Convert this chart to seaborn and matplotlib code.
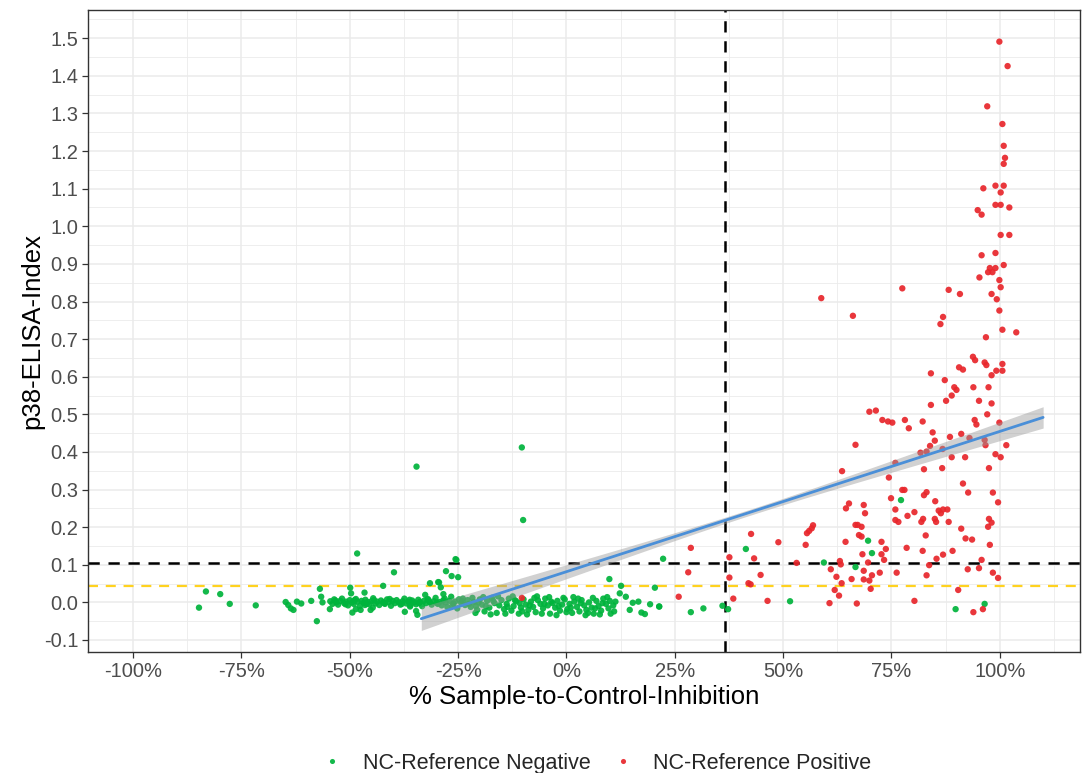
import numpy as np
import pandas as pd
import matplotlib
matplotlib.use("Agg")
import matplotlib.pyplot as plt
import seaborn as sns
from matplotlib.ticker import MultipleLocator, FixedLocator

# ---- NC-Reference Negative samples: x = % inhibition, y = p38-ELISA index ----
neg_x = [
    -84.8, -83.2, -79.9, -77.7, -71.7, -64.8, -64.2, -63.6, -63.0, -62.2, -61.2, -58.9,
    -57.6, -56.9, -56.6, -56.3, -54.6, -49.9, -49.7, -48.3, -46.6, -46.5, -49.4, -48.6,
    -47.5, -45.2, -44.7, -42.3, -39.8, -37.3, -36.1, -34.7, -34.4, -32.6, -31.5, -29.4,
    -27.8, -26.5, -25.6, -25.0, -29.0, -28.4, -34.6, -10.3, -10.0, -25.4, -29.6, 9.9,
    22.3, 20.4, 12.6, 12.3, 13.7, 15.3, 16.6, 19.3, 21.4, 14.6, 17.3, 18.1, 28.7, 31.6,
    36.0, 37.3, 41.4, 59.4, 66.7, 51.6, 77.2, 69.6, 70.5, 89.8, 96.5, 21.4,
    # dense band, left part
    -54.5, -54.0, -53.6, -53.1, -52.7, -52.2, -51.8, -51.3, -50.9, -50.4, -50.0, -49.5,
    -49.1, -48.6, -48.2, -47.7, -47.3, -46.8, -46.4, -45.9, -45.5, -45.0, -44.6, -44.1,
    -43.7, -43.2, -42.8, -42.3, -41.9, -41.4, -41.0, -40.5, -40.1, -39.6, -39.2, -38.7,
    -38.3, -37.8, -37.4, -36.9, -36.5, -36.0, -35.6, -35.1, -34.7, -34.2, -33.8, -33.3,
    -32.9, -32.4, -32.0, -31.5, -31.1, -30.6, -30.2, -29.7, -29.3, -28.8, -28.4, -27.9,
    -27.5, -27.0, -26.6, -26.1, -25.7, -25.2, -24.8, -24.3, -23.9, -23.4,
    -53.3, -51.0, -48.9, -46.1, -44.4, -42.0, -40.8, -38.0, -36.2, -34.0, -31.8, -29.9,
    -28.1, -26.3, -24.0, -22.5, -21.7, -20.9,
    # dense band, right part
    -22.8, -22.1, -21.4, -20.6, -20.0, -19.5, -18.9, -18.3, -17.8, -17.2, -16.6, -16.1,
    -15.5, -15.0, -14.4, -13.8, -13.3, -12.7, -12.2, -11.6, -11.0, -10.5, -9.9, -9.4,
    -8.8, -8.2, -7.7, -7.1, -6.6, -6.0, -5.4, -4.9, -4.3, -3.8, -3.2, -2.6, -2.1, -1.5,
    -1.0, -0.4, 0.2, 0.7, 1.3, 1.8, 2.4, 3.0, 3.5, 4.1, 4.6, 5.2, 5.8, 6.3, 6.9, 7.4,
    8.0, 8.5, 9.1, 9.7, 10.2, 10.8, 11.3,
    -21.0, -19.2, -17.5, -15.8, -14.1, -12.4, -10.8, -9.1, -7.4, -5.7, -4.0, -2.3, -0.7,
    1.0, 2.7, 4.4, 6.1, 7.7, 9.4, 11.0,
    -20.3, -18.6, -16.9, -13.6, -11.9, -10.2, -8.5, -6.8, -5.1, -3.5, -1.8, 0.0, 1.6,
    3.3, 5.0, 6.6, 8.3, 10.0,
]
neg_y = [
    -0.014, 0.029, 0.022, -0.004, -0.008, 0.001, -0.007, -0.016, -0.020, 0.002, -0.003, 0.004,
    -0.050, 0.036, 0.015, 0.000, -0.018, 0.039, 0.024, 0.130, 0.026, -0.007, -0.027, -0.018,
    -0.020, -0.020, -0.014, 0.044, 0.080, -0.025, -0.011, -0.023, -0.033, 0.020, 0.051, 0.053,
    0.083, 0.070, 0.115, 0.067, 0.040, 0.022, 0.361, 0.412, 0.219, 0.113, 0.054, 0.062,
    0.116, 0.039, 0.044, 0.024, 0.015, -0.001, 0.002, -0.005, -0.011, -0.020, -0.027, -0.031, -0.026, -0.016,
    -0.009, -0.018, 0.142, 0.106, 0.094, 0.003, 0.272, 0.164, 0.131, -0.018, -0.004, -0.011,
    0.003, -0.004, 0.008, 0.000, -0.006, 0.004, 0.010, -0.002, 0.002, -0.008, 0.006, 0.000,
    -0.004, 0.009, 0.002, -0.010, 0.004, -0.001, 0.007, 0.001, -0.005, 0.003, 0.011, -0.003,
    0.002, -0.007, 0.005, 0.000, -0.004, 0.008, 0.001, -0.009, 0.004, -0.002, 0.006, 0.000,
    -0.006, 0.003, 0.010, -0.003, 0.002, -0.008, 0.005, 0.000, -0.005, 0.007, 0.001, -0.010,
    0.004, -0.002, 0.009, 0.000, -0.006, 0.003, 0.012, -0.004, 0.001, -0.008, 0.006, 0.000,
    -0.012, 0.004, 0.015, -0.003, 0.002, -0.016, 0.008, -0.001, 0.010, -0.007,
    0.005, -0.005, 0.006, -0.004, 0.006, -0.002, 0.009, -0.004, 0.007, -0.002, 0.006, -0.001,
    0.010, -0.009, 0.003, -0.004, 0.012, -0.010,
    0.006, -0.012, 0.001, -0.020, 0.008, -0.006, -0.024, 0.004, -0.014, 0.012, -0.002, -0.028,
    -0.008, 0.006, -0.018, -0.004, 0.010, -0.022, -0.010, 0.003, -0.030, -0.014, 0.008, -0.006,
    -0.020, 0.002, -0.012, -0.026, 0.006, -0.004, -0.016, 0.010, -0.008, -0.030, -0.002, -0.014, 0.004, -0.022,
    -0.006, 0.008, -0.018, -0.004, -0.028, 0.002, -0.012, -0.024, 0.006, -0.008, -0.020, 0.000, -0.014, -0.030, 0.004, -0.010,
    -0.022, 0.010, -0.004, -0.016, -0.030, -0.008, 0.002,
    -0.028, 0.014, -0.032, 0.016, -0.030, 0.016, -0.002, -0.032, 0.012, -0.030, 0.014, -0.034, 0.012,
    -0.014, 0.010, -0.034, 0.012, -0.032, 0.014, -0.024,
    0.000, -0.010, 0.004, -0.012, 0.006, -0.024, -0.008, 0.016, -0.004, 0.002, -0.010, -0.026, 0.014,
    -0.002, -0.028, -0.016, -0.002, 0.004,
]

# ---- NC-Reference Positive samples ----
pos_x = [
    99.9, 101.8, 97.1, 100.6, 100.9, 101.2, 100.9, 96.2, 99.0, 100.9, 100.2, 99.0, 100.2,
    102.2, 94.9, 95.8, 100.2, 102.2, 95.8, 99.0, 100.9, 97.7, 99.0, 97.3, 98.3, 95.3, 99.9,
    100.2, 77.5, 88.2, 90.8, 98.1, 99.3, 99.9, 86.9, 86.3, 100.6, 103.8, 96.8, 58.8, 66.1,
    93.8, 94.3, 96.5, 96.9, 100.6, 99.2, 100.6, 98.1, 90.6, 91.5, 84.1, 87.3, 89.5, 90.0,
    93.9, 97.4, 88.9, 87.6, 95.2, 98.1, 84.1, 69.9, 71.4, 97.1, 72.9, 74.2, 75.2, 78.1,
    82.2, 79.0, 94.2, 94.6, 99.9, 84.5, 88.5, 91.1, 93.0, 85.0, 96.5, 96.7, 101.5, 83.9,
    81.7, 83.1, 86.8, 75.9, 88.9, 92.0, 99.0, 100.2, 82.5, 86.7, 97.5, 74.4, 91.5, 92.7,
    77.5, 78.0, 82.5, 83.1, 98.4, 74.9, 85.1, 99.6, 68.6, 68.9, 75.9, 80.3, 78.7, 85.9,
    86.9, 86.4, 87.9, 75.9, 76.6, 81.9, 82.3, 85.0, 85.3, 88.2, 97.5, 98.1, 97.3, 91.1,
    68.1, 82.9, 68.1, 92.1, 93.6, 72.7, 97.7, 78.5, 73.7, 82.2, 89.1, 68.3, 72.7, 86.9,
    73.3, 85.4, 95.8, 69.6, 83.7, 68.6, 72.3, 76.2, 92.6, 95.2, 98.4, 70.5, 83.1, 99.6,
    68.6, 69.9, 70.2, 90.4, 80.3, 93.9, 96.1,
    66.7, 63.6, 64.5, 65.2, 66.7, 67.2, 67.5, 64.4, 55.5, 56.0, 56.6, 56.9, 55.2, 48.9,
    42.6, 28.7, 43.3, 37.6, 28.1, 37.6, 44.8, 42.0, 42.5, 53.1, 63.1, 63.3, 61.0, 62.3,
    63.5, 65.8, 61.9, 62.9, 25.9, 38.5, 46.4, 60.7, 67.0, -10.3,
]
pos_y = [
    1.491, 1.426, 1.319, 1.272, 1.214, 1.182, 1.166, 1.101, 1.108, 1.108, 1.090, 1.057, 1.057,
    1.050, 1.043, 1.031, 0.977, 0.977, 0.923, 0.929, 0.897, 0.889, 0.889, 0.878, 0.878, 0.864, 0.857,
    0.838, 0.835, 0.831, 0.820, 0.820, 0.806, 0.776, 0.759, 0.740, 0.725, 0.718, 0.705, 0.809, 0.762,
    0.653, 0.644, 0.638, 0.631, 0.634, 0.616, 0.616, 0.604, 0.625, 0.619, 0.609, 0.591, 0.572, 0.565,
    0.572, 0.572, 0.550, 0.536, 0.536, 0.529, 0.525, 0.507, 0.510, 0.500, 0.485, 0.481, 0.478, 0.485,
    0.481, 0.463, 0.485, 0.473, 0.478, 0.452, 0.440, 0.448, 0.437, 0.430, 0.432, 0.418, 0.418, 0.416,
    0.398, 0.401, 0.408, 0.371, 0.386, 0.386, 0.394, 0.386, 0.354, 0.357, 0.357, 0.332, 0.316, 0.292,
    0.299, 0.299, 0.285, 0.293, 0.292, 0.277, 0.269, 0.266, 0.259, 0.237, 0.247, 0.240, 0.230, 0.244,
    0.247, 0.237, 0.247, 0.219, 0.214, 0.214, 0.222, 0.222, 0.214, 0.214, 0.222, 0.212, 0.201, 0.196,
    0.201, 0.178, 0.175, 0.170, 0.167, 0.161, 0.153, 0.145, 0.142, 0.137, 0.137, 0.128, 0.128, 0.127,
    0.113, 0.116, 0.113, 0.106, 0.099, 0.084, 0.079, 0.079, 0.088, 0.091, 0.079, 0.072, 0.072, 0.065,
    0.061, 0.058, 0.036, 0.033, 0.004, -0.026, -0.018,
    0.419, 0.349, 0.250, 0.263, 0.206, 0.206, 0.179, 0.161, 0.184, 0.190, 0.197, 0.205, 0.153, 0.160,
    0.182, 0.145, 0.117, 0.120, 0.080, 0.066, 0.073, 0.051, 0.048, 0.105, 0.110, 0.101, 0.088, 0.068,
    0.051, 0.062, 0.033, 0.018, 0.015, 0.010, 0.004, -0.002, -0.003, 0.012,
]

groups = ["NC-Reference Negative", "NC-Reference Positive"]
group_colors = ["#00B33C", "#E8262B"]

# Linear fit (index vs. inhibition) with its 95% confidence band
fit_x_range = [-33.5, 110.0]
fit_intercept = 0.0816
fit_slope = 0.00373
band_center_x = 42.0
band_center_halfwidth = 0.008
band_growth = 0.00040

# Cut-offs
cutoff_inhibition = 36.7
cutoff_index = 0.105
cutoff_index_low = 0.044

x_ticks = [-100, -75, -50, -25, 0, 25, 50, 75, 100]
x_tick_labels = ["-100%", "-75%", "-50%", "-25%", "0%", "25%", "50%", "75%", "100%"]
y_ticks = [-0.1, 0.0, 0.1, 0.2, 0.3, 0.4, 0.5, 0.6, 0.7, 0.8, 0.9, 1.0, 1.1, 1.2, 1.3, 1.4, 1.5]
y_tick_labels = [f"{v:.1f}" for v in y_ticks]

df = pd.DataFrame({
    "inhibition": neg_x + pos_x,
    "index": neg_y + pos_y,
    "group": [groups[0]] * len(neg_x) + [groups[1]] * len(pos_x),
})

sns.set_theme(style="white")
plt.rcParams["font.family"] = ["Liberation Sans", "DejaVu Sans"]

fig, ax = plt.subplots(figsize=(10.83, 7.73), dpi=100)
fig.subplots_adjust(left=0.0813, right=0.9972, top=0.987, bottom=0.1565)

sns.scatterplot(data=df, x="inhibition", y="index", hue="group", hue_order=groups,
                palette=group_colors, s=21, linewidth=0, alpha=0.92, ax=ax, zorder=3)

# regression band and line
fx = np.linspace(fit_x_range[0], fit_x_range[1], 200)
fy = fit_intercept + fit_slope * fx
half = np.sqrt(band_center_halfwidth ** 2 + (band_growth * (fx - band_center_x)) ** 2)
ax.fill_between(fx, fy - half, fy + half, color="#999999", alpha=0.45, linewidth=0, zorder=4)
sns.lineplot(x=fx, y=fy, color="#4A8FD8", linewidth=2.0, ax=ax, zorder=5, legend=False)

ax.axhline(cutoff_index_low, color="#FFD21F", linestyle=(0, (4.5, 3.5)), linewidth=1.6, zorder=2)
ax.axhline(cutoff_index, color="black", linestyle=(0, (4.5, 3.5)), linewidth=1.8, zorder=2.5)
ax.axvline(cutoff_inhibition, color="black", linestyle=(0, (4.5, 3.5)), linewidth=1.8, zorder=2.5)

ax.set_xlim(-110.4, 118.5)
ax.set_ylim(-0.132, 1.575)
ax.xaxis.set_major_locator(FixedLocator(x_ticks))
ax.set_xticklabels(x_tick_labels)
ax.xaxis.set_minor_locator(MultipleLocator(12.5))
ax.yaxis.set_major_locator(FixedLocator(y_ticks))
ax.set_yticklabels(y_tick_labels)
ax.yaxis.set_minor_locator(MultipleLocator(0.05))

ax.grid(which="major", color="#EBEBEB", linewidth=1.1, zorder=0)
ax.grid(which="minor", color="#EBEBEB", linewidth=0.6, zorder=0)
ax.set_axisbelow(True)
for sp in ax.spines.values():
    sp.set_color("#333333")
    sp.set_linewidth(1.0)

ax.tick_params(axis="both", which="major", length=4, width=0.9, color="#333333",
               labelsize=14.5, labelcolor="#4D4D4D", direction="out", bottom=True, left=True)
ax.tick_params(axis="x", which="major", pad=3)
ax.tick_params(axis="y", which="major", pad=3)
ax.tick_params(which="minor", length=0)

ax.set_xlabel("% Sample-to-Control-Inhibition", fontsize=18.5, color="black")
ax.set_ylabel("p38-ELISA-Index", fontsize=18.5, color="black")
ax.xaxis.set_label_coords(0.5, -0.052)
ax.yaxis.set_label_coords(-0.044, 0.5)

sns.move_legend(ax, "upper center", bbox_to_anchor=(0.507, -0.127), ncol=2, title=None,
                frameon=False, fontsize=15.5, markerscale=0.8, columnspacing=0.5,
                handletextpad=0.4)

fig.savefig("out.png", dpi=100)
